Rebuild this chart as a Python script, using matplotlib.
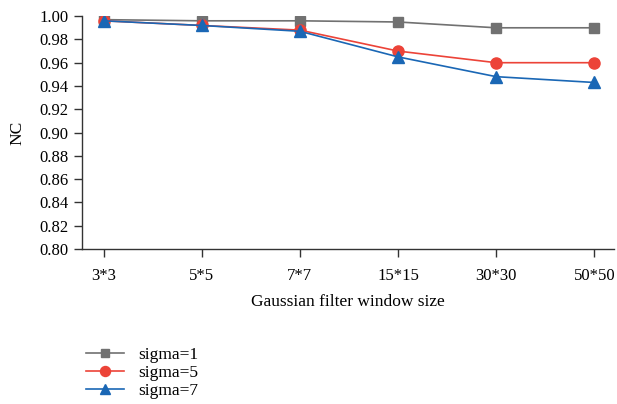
import matplotlib
matplotlib.use("Agg")
import matplotlib.pyplot as plt
import numpy as np

plt.rcParams['font.family'] = ['Liberation Serif', 'DejaVu Serif']

window_sizes = ["3*3", "5*5", "7*7", "15*15", "30*30", "50*50"]
nc_sigma1 = [0.997, 0.996, 0.996, 0.995, 0.990, 0.990]
nc_sigma5 = [0.996, 0.992, 0.988, 0.970, 0.960, 0.960]
nc_sigma7 = [0.996, 0.992, 0.987, 0.965, 0.948, 0.943]

fig = plt.figure(figsize=(6.17, 4.04), dpi=100)
ax = fig.add_axes([0.133, 0.384, 0.862, 0.576])

x = np.arange(len(window_sizes))
ax.plot(x, nc_sigma1, color="#717171", marker="s", markersize=7, lw=1.2, label="sigma=1")
ax.plot(x, nc_sigma5, color="#ec4338", marker="o", markersize=8, lw=1.2, label="sigma=5")
ax.plot(x, nc_sigma7, color="#1a67b5", marker="^", markersize=8, lw=1.2, label="sigma=7")

ax.set_xlim(-0.22, 5.2)
ax.set_ylim(0.80, 1.00)
yt = np.arange(0.80, 1.001, 0.02)
ax.set_yticks(yt)
ax.set_yticklabels([f"{v:.2f}" for v in yt])
ax.set_xticks(x)
ax.set_xticklabels(window_sizes)

for s in ["top", "right"]:
    ax.spines[s].set_visible(False)
for s in ["left", "bottom"]:
    ax.spines[s].set_color("#333333")
    ax.spines[s].set_linewidth(1.0)
ax.tick_params(axis="both", labelsize=12, color="#333333", length=6, width=1.0)
ax.tick_params(axis="x", pad=8)

ax.set_xlabel("Gaussian filter window size", fontsize=12.5, labelpad=7)
ax.set_ylabel("NC", fontsize=12.5, labelpad=10)

fig.legend(loc="upper left", bbox_to_anchor=(0.128, 0.158), frameon=False,
           fontsize=12.5, handlelength=2.2, labelspacing=0.1, handletextpad=0.8,
           borderaxespad=0, markerscale=0.9)

fig.savefig("out.png", dpi=100)
